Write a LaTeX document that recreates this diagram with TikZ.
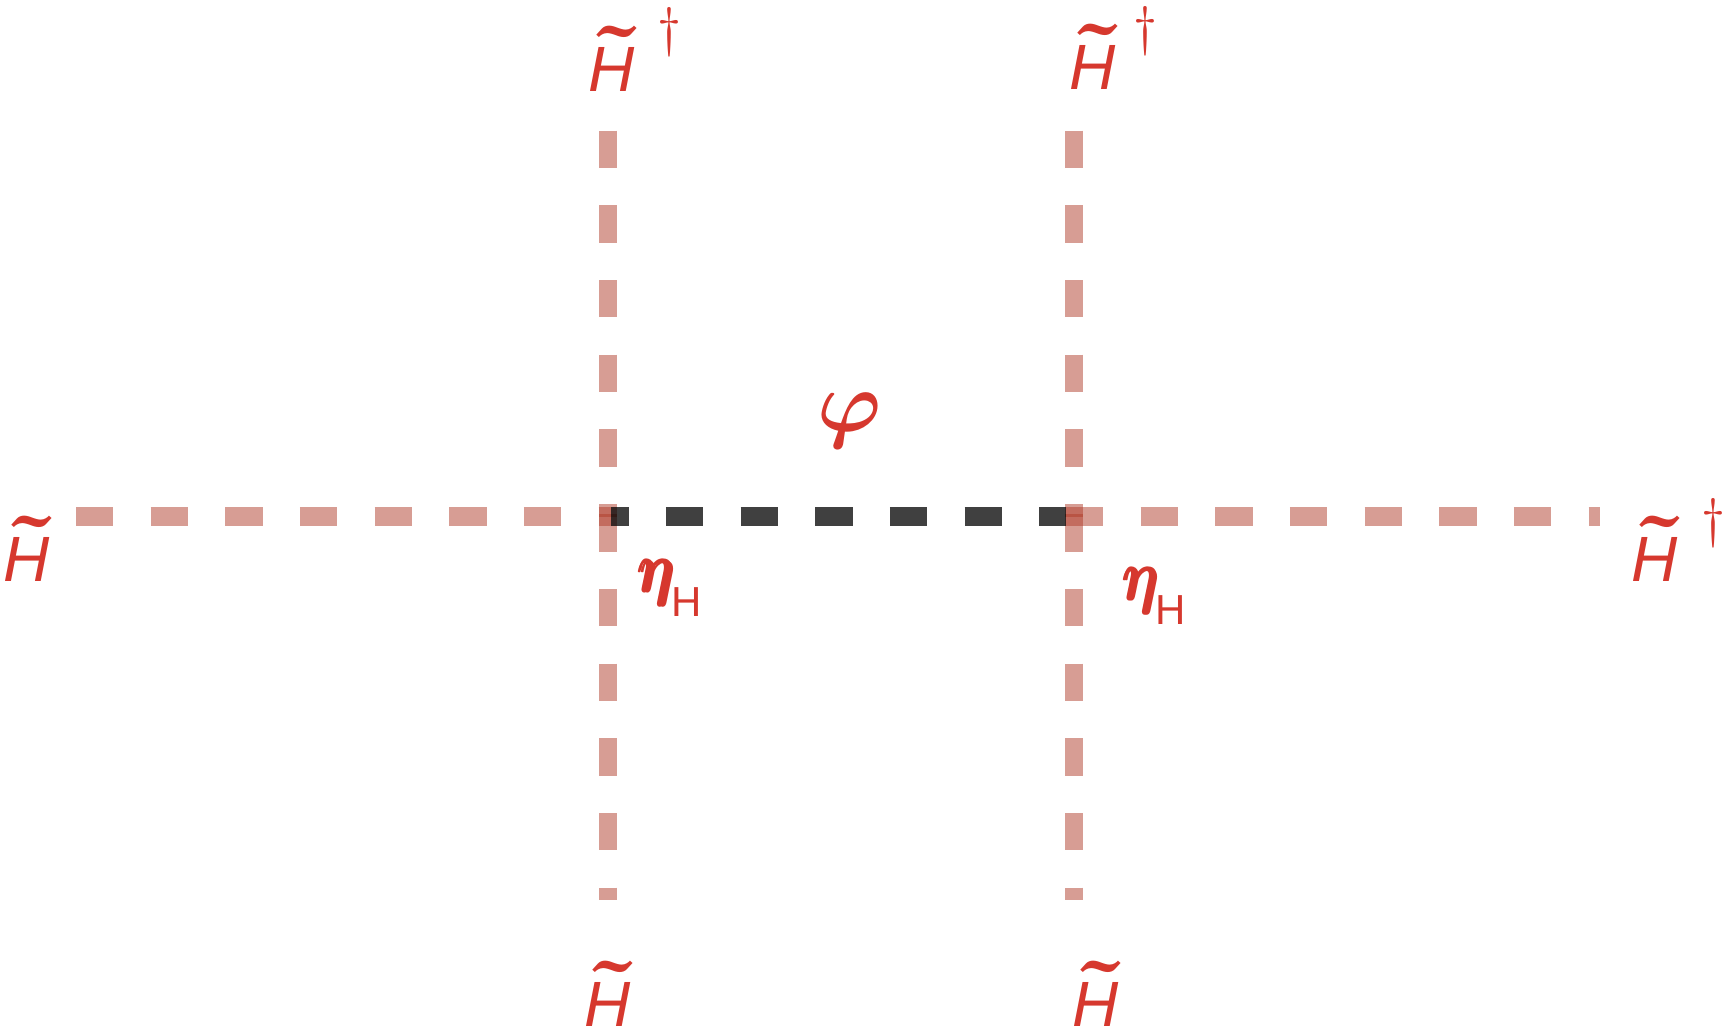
\RequirePackage{fix-cm}
\documentclass[tikz,border=0pt]{standalone}
\usepackage{amsmath}
\usepackage{graphicx}
\usepackage{fontspec}
\setsansfont{Liberation Sans}
\definecolor{labred}{RGB}{214,56,46}
\definecolor{lightline}{RGB}{175,60,42}
\newcommand{\Hsym}{\mbox{\sffamily\itshape H}}
\newcommand{\tld}{\makebox[0pt]{\raisebox{-6pt}{\fontsize{108}{108}\selectfont\rmfamily\bfseries\symbol{"02DC}}}}
\newcommand{\Ht}{\makebox[0pt][l]{\hspace{29pt}\tld}\Hsym}
\newcommand{\Hlab}{\fontsize{64}{64}\selectfont\Ht}
\newcommand{\Hdag}[1][22pt]{\fontsize{64}{64}\selectfont\Ht\kern#1\raisebox{45.7pt}{\fontsize{54}{54}\selectfont$\dagger$}}
\newcommand{\etaH}{\fontsize{70}{70}\selectfont\makebox[32pt][l]{\scalebox{0.82}[1]{$\pmb{\boldsymbol{\eta}}$}}\raisebox{-24pt}{\fontsize{42}{42}\selectfont\sffamily H}}
\tikzset{
  lab/.style={text=labred, inner sep=0pt, anchor=base west},
  lightdash/.style={draw=lightline, draw opacity=0.5, line width=18.4pt, dash pattern=on 37.33pt off 37.33pt},
  darkdash/.style={draw=black, draw opacity=0.75, line width=18.4pt, dash pattern=on 37.33pt off 37.33pt, dash phase=19.7pt}
}
\begin{document}
\begin{tikzpicture}[x=1pt,y=-1pt]
\useasboundingbox (0,0) rectangle (1727,1032);
% junction and end coordinates
\coordinate (lt) at (608.2,130.7);
\coordinate (lm) at (608.2,516.5);
\coordinate (lm2) at (608.2,514.4);
\coordinate (lb) at (608.2,900);
\coordinate (rt) at (1073.8,130.7);
\coordinate (rm) at (1073.8,516.5);
\coordinate (rm2) at (1073.8,514.4);
\coordinate (rb) at (1073.8,900);
\coordinate (hl) at (76,516.5);
\coordinate (hj1) at (611,516.5);
\coordinate (hj2) at (1066,516.5);
\coordinate (hr) at (1600.3,516.5);
% labels
\node[lab] (tl) at (588,91.7) {\Hdag[23pt]};
\node[lab] (tr) at (1069,90) {\Hdag[18.5pt]};
\node[lab] (l) at (3,581.7) {\Hlab};
\node[lab] (r) at (1631,581.7) {\Hdag[24pt]};
\node[lab] (bl) at (584,1026.7) {\Hlab};
\node[lab] (br) at (1072,1026.7) {\Hlab};
\node[lab] (eta1) at (639,592.7) {\etaH};
\node[lab] (eta2) at (1123.5,600.7) {\etaH};
\node[text=labred, inner sep=0pt] (phi) at (850,420.5) {\fontsize{86}{86}\selectfont$\boldsymbol{\varphi}$};
% vertical lines
\draw[lightdash] (lt) -- (lm);
\draw[lightdash] (lm2) -- (lb);
\draw[lightdash] (rt) -- (rm);
\draw[lightdash] (rm2) -- (rb);
% horizontal lines
\draw[lightdash] (hl) -- (hj1);
\draw[darkdash] (hj1) -- (hj2);
\draw[lightdash] (hj2) -- (hr);
\end{tikzpicture}
\end{document}
